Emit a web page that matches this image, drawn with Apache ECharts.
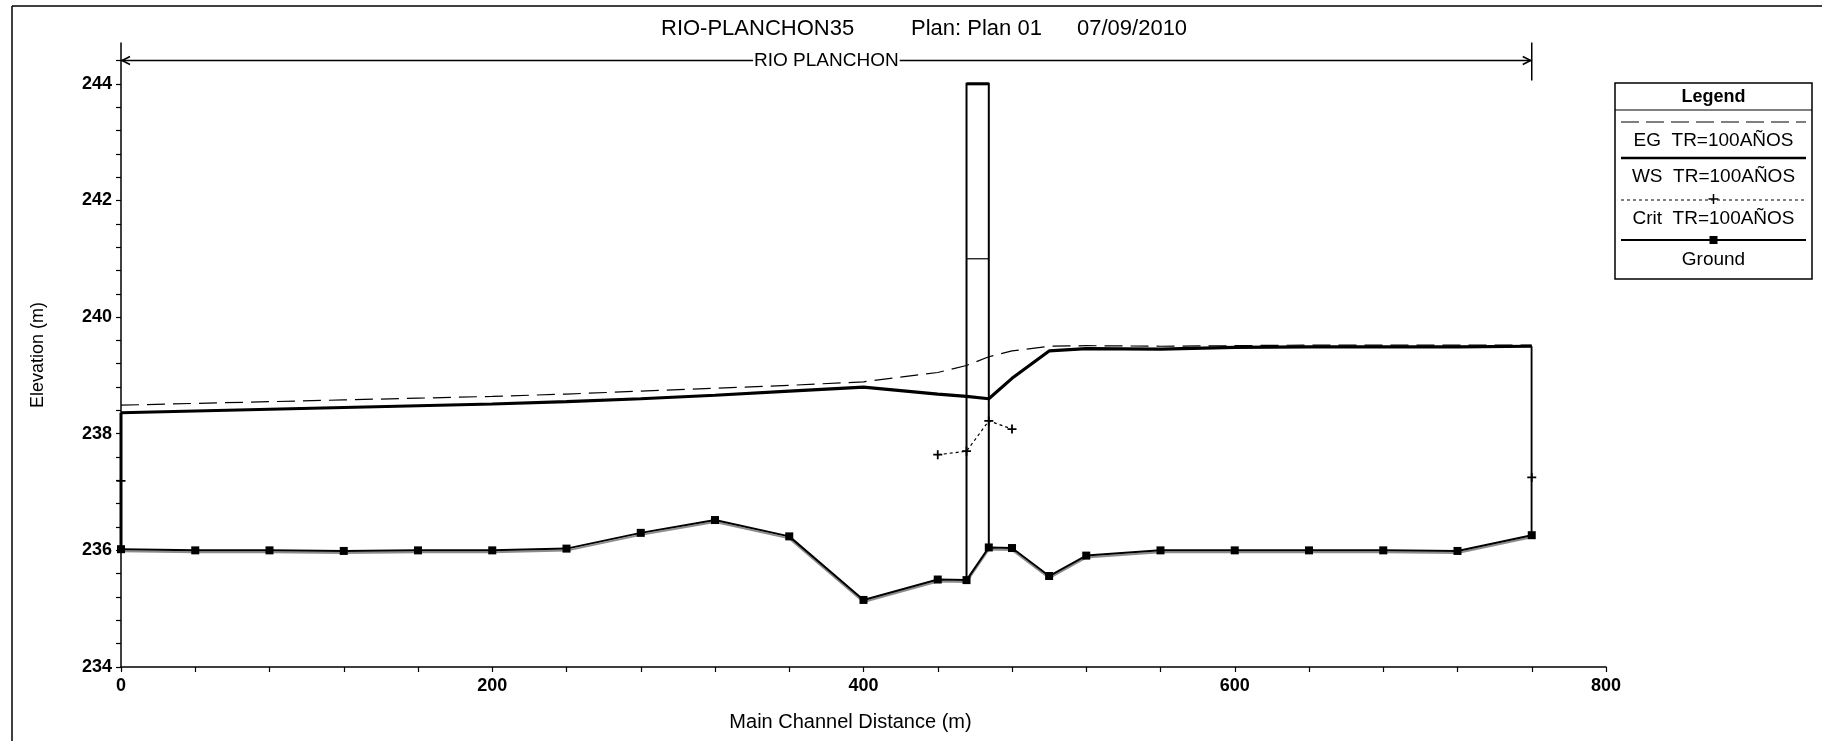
<!DOCTYPE html>
<html>
<head>
<meta charset="utf-8">
<title>RIO-PLANCHON35 profile</title>
<script src="https://cdn.jsdelivr.net/npm/echarts@6/dist/echarts.min.js"></script>
<style>
  html, body { margin: 0; padding: 0; background: #fff; }
  #chart { width: 1825px; height: 741px; }
</style>
</head>
<body>
<div id="chart"></div>
<script>
// Main channel stations along the reach (m)
const stations = [0, 40, 80, 120, 160, 200, 240, 280, 320, 360, 400, 440, 455.5, 467.5, 480, 500, 520, 560, 600, 640, 680, 720, 760];
// Energy grade line, TR=100 años (m)
const egElev = [238.49, 238.52, 238.55, 238.58, 238.61, 238.64, 238.68, 238.73, 238.78, 238.83, 238.89, 239.05, 239.17, 239.32, 239.42, 239.50, 239.51, 239.50, 239.51, 239.52, 239.52, 239.52, 239.52];
// Water surface, TR=100 años (m)
const wsElev = [238.36, 238.39, 238.42, 238.45, 238.48, 238.51, 238.55, 238.60, 238.66, 238.73, 238.80, 238.68, 238.64, 238.60, 238.95, 239.42, 239.46, 239.45, 239.48, 239.49, 239.49, 239.49, 239.50];
// Critical water surface, only where it was computed (m)
const critElev = [237.19, null, null, null, null, null, null, null, null, null, null, 237.64, 237.70, 238.22, 238.08, null, null, null, null, null, null, null, 237.25];
// Channel invert (m)
const groundElev = [236.02, 236.00, 236.00, 235.99, 236.00, 236.00, 236.03, 236.30, 236.52, 236.24, 235.15, 235.50, 235.49, 236.05, 236.04, 235.56, 235.91, 236.00, 236.00, 236.00, 236.00, 235.99, 236.26];

// Bridge faces, low chord and top of road (m)
const bridgeStations = [455.5, 467.5];
const bridgeLowChord = 241;
const bridgeTopRoad = 244;

// Axis tick labels
const xTickLabels = [0, 200, 400, 600, 800];
const yTickLabels = [234, 236, 238, 240, 242, 244];

const reachName = 'RIO PLANCHON';
const titleParts = ['RIO-PLANCHON35', 'Plan: Plan 01', '07/09/2010'];
const legendTitle = 'Legend';
const legendLabels = ['EG  TR=100AÑOS', 'WS  TR=100AÑOS', 'Crit  TR=100AÑOS', 'Ground'];

const FONT = '"Liberation Sans", Arial, Helvetica, sans-serif';
const INK = '#000';

const pairs = (ys) => stations.map((s, i) => [s, ys[i]]);

// Bridge deck drawn between its two faces
function renderBridge(params, api) {
  const i0 = stations.indexOf(bridgeStations[0]);
  const i1 = stations.indexOf(bridgeStations[1]);
  const bl = api.coord([bridgeStations[0], groundElev[i0]]);
  const tl = api.coord([bridgeStations[0], bridgeTopRoad]);
  const tr = api.coord([bridgeStations[1], bridgeTopRoad]);
  const br = api.coord([bridgeStations[1], groundElev[i1]]);
  const cl = api.coord([bridgeStations[0], bridgeLowChord]);
  const cr = api.coord([bridgeStations[1], bridgeLowChord]);
  return {
    type: 'group',
    children: [
      { type: 'polyline', shape: { points: [bl, tl, tr, br] }, style: { stroke: INK, lineWidth: 2, fill: null } },
      { type: 'line', shape: { x1: tl[0], y1: tl[1], x2: tr[0], y2: tr[1] }, style: { stroke: INK, lineWidth: 3 } },
      { type: 'line', shape: { x1: cl[0], y1: cl[1], x2: cr[0], y2: cr[1] }, style: { stroke: INK, lineWidth: 1.2 } }
    ]
  };
}

// Vertical closing lines at the first and last cross sections
function renderEnds(params, api) {
  const n = stations.length - 1;
  const a0 = api.coord([stations[0], groundElev[0]]);
  const a1 = api.coord([stations[0], wsElev[0]]);
  const b0 = api.coord([stations[n], groundElev[n]]);
  const b1 = api.coord([stations[n], wsElev[n]]);
  return {
    type: 'group',
    children: [
      { type: 'line', shape: { x1: a0[0], y1: a0[1], x2: a1[0], y2: a1[1] }, style: { stroke: INK, lineWidth: 3 } },
      { type: 'line', shape: { x1: b0[0] - 1, y1: b0[1], x2: b1[0] - 1, y2: b1[1] }, style: { stroke: '#888', lineWidth: 1 } },
      { type: 'line', shape: { x1: b0[0], y1: b0[1], x2: b1[0], y2: b1[1] }, style: { stroke: INK, lineWidth: 1.5 } }
    ]
  };
}

// Reach extent bar with its name along the top of the plot
const reachLineElev = 244.4;
function renderReach(params, api) {
  const n = stations.length - 1;
  const a = api.coord([stations[0], reachLineElev]);
  const b = api.coord([stations[n], reachLineElev]);
  const m = api.coord([(stations[0] + stations[n]) / 2, reachLineElev]);
  const s = { stroke: INK, lineWidth: 1.5, fill: null };
  return {
    type: 'group',
    children: [
      { type: 'line', shape: { x1: a[0], y1: a[1], x2: b[0], y2: b[1] }, style: s },
      { type: 'polyline', shape: { points: [[a[0] + 9, a[1] - 4], [a[0] + 1, a[1]], [a[0] + 9, a[1] + 4]] }, style: s },
      { type: 'polyline', shape: { points: [[b[0] - 9, b[1] - 4], [b[0] - 1, b[1]], [b[0] - 9, b[1] + 4]] }, style: s },
      { type: 'line', shape: { x1: b[0], y1: b[1] - 18, x2: b[0], y2: b[1] + 20 }, style: s },
      {
        type: 'text', x: m[0], y: m[1],
        style: {
          text: reachName, fill: INK, font: '19px ' + FONT,
          align: 'center', verticalAlign: 'middle',
          backgroundColor: '#fff', padding: [0, 1]
        }
      }
    ]
  };
}

// Legend panel
const LG = { x: 1615, y: 83, w: 197, h: 196 };
const lgCx = LG.x + LG.w / 2;
const lgTxt = (t, y, bold) => ({
  type: 'text', x: lgCx, y: y, z: 11,
  style: { text: t, fill: INK, font: (bold ? 'bold 18px ' : '19px ') + FONT, align: 'center', verticalAlign: 'middle' }
});
const lgLine = (y, w, dash) => ({
  type: 'line', z: 11, shape: { x1: LG.x + 6, y1: y, x2: LG.x + LG.w - 6, y2: y },
  style: { stroke: INK, lineWidth: w, lineDash: dash || null }
});
const legendGraphic = [
  { type: 'rect', z: 10, shape: { x: LG.x, y: LG.y, width: LG.w, height: LG.h }, style: { fill: '#fff', stroke: INK, lineWidth: 1.5 } },
  lgTxt(legendTitle, 97, true),
  { type: 'line', z: 11, shape: { x1: LG.x, y1: 110, x2: LG.x + LG.w, y2: 110 }, style: { stroke: INK, lineWidth: 1.2 } },
  lgLine(122, 1.2, [18, 7]),
  lgTxt(legendLabels[0], 141),
  lgLine(158, 2.5),
  lgTxt(legendLabels[1], 177),
  lgLine(200, 1, [3, 3]),
  { type: 'line', z: 11, shape: { x1: lgCx - 5, y1: 199, x2: lgCx + 5, y2: 199 }, style: { stroke: INK, lineWidth: 1.5 } },
  { type: 'line', z: 11, shape: { x1: lgCx, y1: 194, x2: lgCx, y2: 204 }, style: { stroke: INK, lineWidth: 1.5 } },
  lgTxt(legendLabels[2], 219),
  lgLine(240, 2),
  { type: 'rect', z: 11, shape: { x: lgCx - 4, y: 236, width: 8, height: 8 }, style: { fill: INK } },
  lgTxt(legendLabels[3], 260)
];

// Title pieces, spaced like the HEC-RAS header
const titleX = [661, 911, 1077];
const titleGraphic = titleParts.map((t, i) => ({
  type: 'text', x: titleX[i], y: 29,
  style: { text: t, fill: INK, font: '22px ' + FONT, align: 'left', verticalAlign: 'middle' }
}));

const isLabelTick = (list) => (v) => list.some(t => Math.abs(t - v) < 1e-6) ? String(Math.round(v)) : '';

const chart = echarts.init(document.getElementById('chart'), null, { renderer: 'canvas' });
chart.setOption({
  animation: false,
  backgroundColor: '#fff',
  textStyle: { fontFamily: FONT, color: INK },
  grid: { left: 121, right: 219, top: 43, bottom: 74 },
  xAxis: {
    type: 'value', min: 0, max: 800, interval: 40,
    name: 'Main Channel Distance (m)', nameLocation: 'middle', nameGap: 45,
    nameTextStyle: { fontFamily: FONT, fontSize: 20, color: INK, padding: [0, 26, 0, 0] },
    axisLine: { show: true, lineStyle: { color: INK, width: 1.5 } },
    axisTick: { show: true, length: 5, lineStyle: { color: INK, width: 1.2 } },
    splitLine: { show: false },
    axisLabel: { margin: 10, fontFamily: FONT, fontSize: 18, fontWeight: 'bold', color: INK, formatter: isLabelTick(xTickLabels) }
  },
  yAxis: {
    type: 'value', min: 234, max: 244.7, interval: 0.4,
    name: 'Elevation (m)', nameLocation: 'middle', nameGap: 74, nameRotate: 90,
    nameTextStyle: { fontFamily: FONT, fontSize: 18, color: INK },
    axisLine: { show: true, lineStyle: { color: INK, width: 1.5 } },
    axisTick: { show: true, length: 5, lineStyle: { color: INK, width: 1.2 } },
    splitLine: { show: false },
    axisLabel: { margin: 9, fontFamily: FONT, fontSize: 18, fontWeight: 'bold', color: INK, showMaxLabel: false, formatter: isLabelTick(yTickLabels) }
  },
  graphic: [
    { type: 'line', shape: { x1: 12, y1: 6, x2: 1822, y2: 6 }, style: { stroke: INK, lineWidth: 1.5 } },
    { type: 'line', shape: { x1: 12, y1: 6, x2: 12, y2: 741 }, style: { stroke: INK, lineWidth: 1.5 } }
  ].concat(titleGraphic, legendGraphic),
  series: [
    {
      name: 'Bridge', type: 'custom', renderItem: renderBridge,
      data: [[bridgeStations[0], bridgeTopRoad]], z: 3, silent: true
    },
    {
      name: 'Ends', type: 'custom', renderItem: renderEnds,
      data: [[stations[0], wsElev[0]]], z: 3, silent: true
    },
    {
      name: 'Reach', type: 'custom', renderItem: renderReach,
      data: [[stations[0], reachLineElev]], z: 4, silent: true
    },
    {
      name: legendLabels[0], type: 'line', data: pairs(egElev),
      showSymbol: false, symbol: 'none',
      lineStyle: { color: INK, width: 1.2, type: [18, 8] }, z: 5
    },
    {
      name: legendLabels[1], type: 'line', data: pairs(wsElev),
      showSymbol: false, symbol: 'none',
      lineStyle: { color: INK, width: 3.2 }, z: 6
    },
    {
      name: legendLabels[2], type: 'line', data: pairs(critElev),
      connectNulls: false, showSymbol: true, showAllSymbol: true,
      symbol: 'path://M4,0H6V4H10V6H6V10H4V6H0V4H4Z', symbolSize: 9,
      itemStyle: { color: INK },
      lineStyle: { color: INK, width: 1.2, type: [3, 3] }, z: 5
    },
    {
      name: legendLabels[3], type: 'line', data: pairs(groundElev),
      showSymbol: true, showAllSymbol: true, symbol: 'rect', symbolSize: 8,
      itemStyle: { color: INK },
      lineStyle: { color: INK, width: 2, shadowColor: 'rgba(0,0,0,0.45)', shadowBlur: 0, shadowOffsetY: 2 }, z: 7
    }
  ]
});
</script>
</body>
</html>
